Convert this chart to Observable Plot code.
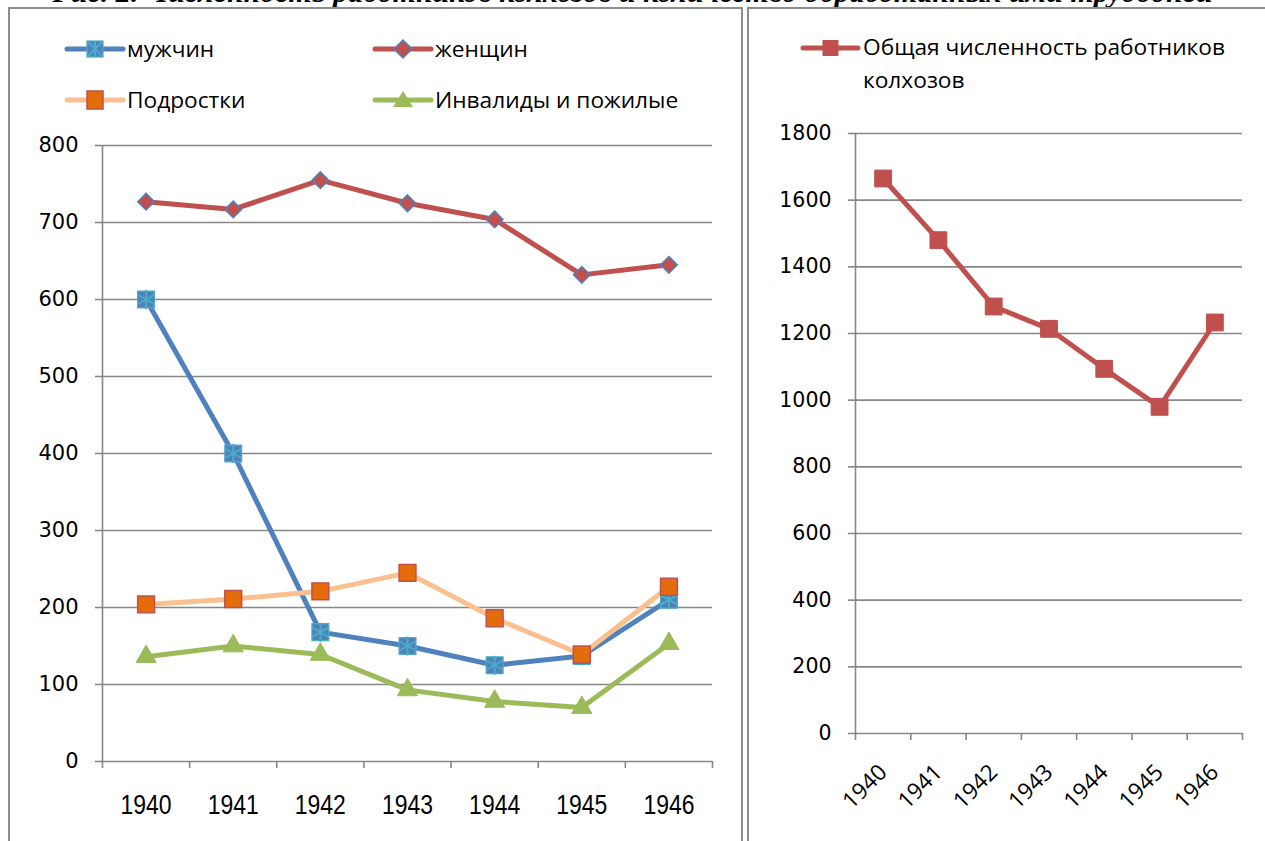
<!DOCTYPE html>
<html>
<head>
<meta charset="utf-8">
<script src="https://cdn.jsdelivr.net/npm/d3@7"></script>
<script src="https://cdn.jsdelivr.net/npm/@observablehq/plot@0.6"></script>
<style>
  html, body { margin: 0; padding: 0; background: #fff; }
  body { width: 1265px; height: 841px; position: relative; overflow: hidden; }
  .frame { position: absolute; border: 2px solid #8e8e8e; box-sizing: border-box; }
  #title { position: absolute; left: 0; width: 1265px; top: -23px; text-align: center;
    font-family: "Liberation Serif", "Times New Roman", serif; font-weight: bold; font-style: italic;
    font-size: 30px; line-height: 30px; white-space: nowrap; }
  .legend { position: absolute; font-family: "Open Sans", sans-serif; font-size: 22.7px; color: #000; }
  .item { position: absolute; display: flex; align-items: center; white-space: nowrap; }
  .item svg { flex: none; }
  .chart { position: absolute; top: 0; }
</style>
</head>
<body>
<div id="title">Рис. 2. Численность работников колхозов и количество обработанных ими трудодней</div>
<div class="frame" style="left:8px; top:7px; width:735px; height:860px;"></div>
<div class="frame" style="left:747px; top:7px; width:540px; height:860px;"></div>
<div id="left" class="chart" style="left:0px;"></div>
<div id="right" class="chart" style="left:745px;"></div>
<div id="legL" class="legend"></div>
<div id="legR" class="legend"></div>
<script>
// ---- data ----
const years = [1940, 1941, 1942, 1943, 1944, 1945, 1946];
const men = [600, 400, 168, 150, 125, 137, 210];
const women = [727, 717, 755, 725, 704, 632, 645];
const teens = [204, 211, 221, 245, 186, 139, 227];
const elderly = [136, 150, 139, 93, 78, 70, 153];
const total = [1665, 1480, 1281, 1214, 1094, 980, 1233];
const seriesNames = ["мужчин", "женщин", "Подростки", "Инвалиды и пожилые"];
const totalName = ["Общая численность работников", "колхозов"];
const yTicksLeft = [0, 100, 200, 300, 400, 500, 600, 700, 800];
const yTicksRight = [0, 200, 400, 600, 800, 1000, 1200, 1400, 1600, 1800];

const GRID = "#878787";
const rows = (vals) => years.map((y, i) => ({year: y, value: vals[i]}));
const edges = [...years.map(y => y - 0.5), years[years.length - 1] + 0.5];

// ---- left chart ----
const left = Plot.plot({
  width: 745, height: 841,
  marginLeft: 102, marginRight: 33, marginTop: 145, marginBottom: 80,
  x: {domain: [edges[0], edges[edges.length - 1]], label: null},
  y: {domain: [0, 800], label: null},
  style: {fontFamily: "DejaVu Sans, sans-serif", background: "transparent", overflow: "visible"},
  marks: [
    Plot.ruleY(yTicksLeft, {stroke: GRID, strokeWidth: 1.6}),
    Plot.ruleX([edges[0]], {stroke: GRID, strokeWidth: 1.6}),
    Plot.axisY(yTicksLeft, {label: null, tickSize: 7, tickPadding: 17, stroke: GRID, strokeWidth: 1.6, fill: "#000", fontSize: 21, tickFormat: d => String(d)}),
    Plot.axisX(edges, {label: null, tickSize: 7, stroke: GRID, strokeWidth: 1.6, tickFormat: () => ""}),
    Plot.axisX(years, {label: null, tickSize: 0, tickPadding: 33, fill: "#000", fontSize: 28, fontFamily: "Liberation Sans, Arial, sans-serif", className: "narrow", tickFormat: d => String(d)}),
    // мужчин
    Plot.line(rows(men), {x: "year", y: "value", stroke: "#4F81BD", strokeWidth: 5}),
    Plot.dot(rows(men), {x: "year", y: "value", symbol: "square", r: 9.5, fill: "#4F81BD", stroke: "#4BACC6", strokeWidth: 1.2}),
    Plot.dot(rows(men), {x: "year", y: "value", symbol: "asterisk", r: 9, stroke: "#4BACC6", strokeWidth: 2}),
    // женщин
    Plot.line(rows(women), {x: "year", y: "value", stroke: "#C0504D", strokeWidth: 5}),
    Plot.dot(rows(women), {x: "year", y: "value", symbol: "diamond2", r: 7.5, fill: "#C0504D", stroke: "#4F81BD", strokeWidth: 1.5}),
    // Подростки
    Plot.line(rows(teens), {x: "year", y: "value", stroke: "#FAC090", strokeWidth: 5}),
    Plot.dot(rows(teens), {x: "year", y: "value", symbol: "square", r: 9.5, fill: "#E46C0A", stroke: "#C0504D", strokeWidth: 1.5}),
    // Инвалиды и пожилые
    Plot.line(rows(elderly), {x: "year", y: "value", stroke: "#9BBB59", strokeWidth: 5}),
    Plot.dot(rows(elderly), {x: "year", y: "value", symbol: "triangle", r: 7.5, fill: "#9BBB59", stroke: "#9BBB59", strokeWidth: 1})
  ]
});
document.getElementById("left").append(left);
// condense the year labels of the left chart (the original uses a narrow face)
left.querySelectorAll(".narrow text").forEach(t => {
  const tr = t.getAttribute("transform") || "";
  t.setAttribute("transform", tr + " scale(0.82,1)");
});

// ---- right chart ----
const right = Plot.plot({
  width: 520, height: 841,
  marginLeft: 110, marginRight: 23, marginTop: 133, marginBottom: 108,
  x: {domain: [edges[0], edges[edges.length - 1]], label: null},
  y: {domain: [0, 1800], label: null},
  style: {fontFamily: "DejaVu Sans, sans-serif", background: "transparent", overflow: "visible"},
  marks: [
    Plot.ruleY(yTicksRight, {stroke: GRID, strokeWidth: 1.6}),
    Plot.ruleX([edges[0]], {stroke: GRID, strokeWidth: 1.6}),
    Plot.axisY(yTicksRight, {label: null, tickSize: 7, tickPadding: 17, stroke: GRID, strokeWidth: 1.6, fill: "#000", fontSize: 20.5, tickFormat: d => String(d)}),
    Plot.axisX(edges, {label: null, tickSize: 7, stroke: GRID, strokeWidth: 1.6, tickFormat: () => ""}),
    Plot.axisX(years, {label: null, tickSize: 0, tickPadding: 35, tickRotate: -45, fill: "#000", fontSize: 22.5, fontFamily: "Open Sans, sans-serif", tickFormat: d => String(d)}),
    Plot.line(rows(total), {x: "year", y: "value", stroke: "#C0504D", strokeWidth: 5}),
    Plot.dot(rows(total), {x: "year", y: "value", symbol: "square", r: 9.5, fill: "#C0504D", stroke: "#C0504D", strokeWidth: 1})
  ]
});
document.getElementById("right").append(right);

// ---- legends (HTML) ----
function swatch(color, marker, w) {
  const h = 26, cx = w / 2, cy = h / 2;
  let m = "";
  if (marker === "xsq") m = `<rect x="${cx-8}" y="${cy-8}" width="16" height="16" fill="#4F81BD" stroke="#4BACC6" stroke-width="1.2"/>` +
      `<path d="M${cx-7},${cy-7}L${cx+7},${cy+7}M${cx+7},${cy-7}L${cx-7},${cy+7}M${cx},${cy-8}L${cx},${cy+8}" stroke="#4BACC6" stroke-width="2"/>`;
  if (marker === "diamond") m = `<path d="M${cx},${cy-9}L${cx+9},${cy}L${cx},${cy+9}L${cx-9},${cy}Z" fill="#C0504D" stroke="#4F81BD" stroke-width="1.5"/>`;
  if (marker === "osq") m = `<rect x="${cx-8}" y="${cy-9}" width="16" height="18" fill="#E46C0A" stroke="#C0504D" stroke-width="1.5"/>`;
  if (marker === "tri") m = `<path d="M${cx},${cy-9}L${cx+10},${cy+7}L${cx-10},${cy+7}Z" fill="#9BBB59"/>`;
  if (marker === "rsq") m = `<rect x="${cx-8}" y="${cy-8}" width="16" height="16" fill="#C0504D"/>`;
  return `<svg width="${w}" height="${h}"><line x1="3" x2="${w-3}" y1="${cy}" y2="${cy}" stroke="${color}" stroke-width="5" stroke-linecap="round"/>${m}</svg>`;
}
const legItems = [
  {name: seriesNames[0], color: "#4F81BD", marker: "xsq", x: 64, y: 33},
  {name: seriesNames[1], color: "#C0504D", marker: "diamond", x: 372, y: 33},
  {name: seriesNames[2], color: "#FAC090", marker: "osq", x: 64, y: 84},
  {name: seriesNames[3], color: "#9BBB59", marker: "tri", x: 372, y: 84}
];
const legL = document.getElementById("legL");
legL.innerHTML = legItems.map(d =>
  `<div class="item" style="left:${d.x}px; top:${d.y}px;">${swatch(d.color, d.marker, 62)}<span style="margin-left:1px">${d.name}</span></div>`
).join("");
const legR = document.getElementById("legR");
legR.innerHTML = `<div class="item" style="left:800px; top:35px; align-items:flex-start;">${swatch("#C0504D", "rsq", 61)}<span style="line-height:32.5px; margin-top:-4px; margin-left:2px; white-space:normal; width:390px;">${totalName[0]}<br>${totalName[1]}</span></div>`;
</script>
</body>
</html>
